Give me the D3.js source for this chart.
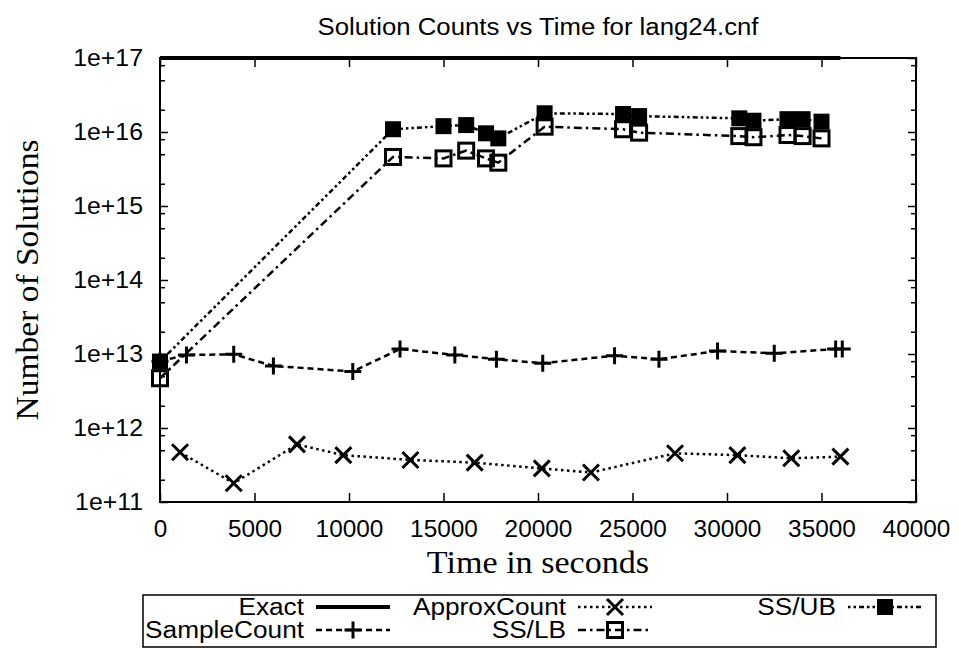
<!DOCTYPE html>
<html><head><meta charset="utf-8">
<script src="https://cdn.jsdelivr.net/npm/d3@7"></script>
<style>body{margin:0;background:#fff}svg{display:block}</style>
</head><body><svg id="c" width="959" height="648"></svg>
<script>
const title = "Solution Counts vs Time for lang24.cnf";
const xLabel = "Time in seconds";
const yLabel = "Number of Solutions";
const xTicks = [0,5000,10000,15000,20000,25000,30000,35000,40000];
const yTicks = [1e11,1e12,1e13,1e14,1e15,1e16,1e17];
const yTickLabels = ["1e+11","1e+12","1e+13","1e+14","1e+15","1e+16","1e+17"];

const exactTime = [0, 36000];
const exactVals = [1e17, 1e17];
const sampleTime = [0,1400,3900,6000,10200,12700,15600,17800,20250,24050,26400,29500,32500,35750,36100];
const sampleVals = [8e12,9.7e12,9.9e12,6.9e12,5.8e12,1.17e13,9.7e12,8.5e12,7.5e12,9.5e12,8.5e12,1.1e13,1.02e13,1.17e13,1.17e13];
const approxTime = [1060,3900,7250,9700,13250,16650,20200,22800,27250,30550,33400,36000];
const approxVals = [4.7e11,1.79e11,6.0e11,4.3e11,3.7e11,3.4e11,2.85e11,2.5e11,4.55e11,4.3e11,3.9e11,4.1e11];
const ssTime = [0,12330,15000,16200,17250,17900,20350,24500,25350,30650,31400,33200,34000,35000];
const ssUbVals = [7.9e12,1.09e16,1.2e16,1.24e16,9.6e15,8.2e15,1.79e16,1.75e16,1.64e16,1.53e16,1.42e16,1.49e16,1.49e16,1.38e16];
const ssLbVals = [4.7e12,4.6e15,4.4e15,5.6e15,4.4e15,3.85e15,1.18e16,1.09e16,9.8e15,8.8e15,8.5e15,9.1e15,8.8e15,8.2e15];

const svg = d3.select("#c");
const L=160,R=916,T=58,B=502;
const x = d3.scaleLinear().domain([0,40000]).range([L,R]);
const y = d3.scaleLog().domain([1e11,1e17]).range([B,T]);
const sans = "'Liberation Sans', Arial, sans-serif";
const serif = "'Liberation Serif', 'Times New Roman', serif";

function stretch(sel, f){
  sel.each(function(){
    const len = this.getComputedTextLength();
    d3.select(this).attr("textLength", len*f).attr("lengthAdjust","spacingAndGlyphs");
  });
}

const minor = [];
for (let e=11;e<17;e++) for (const m of [2,5,8]) minor.push(m*Math.pow(10,e));

const g = svg.append("g");
const tickStyle = a=>{a.select(".domain").remove();a.selectAll("line").attr("stroke","#000").attr("stroke-width",1.5);};
g.append("g").attr("transform",`translate(${L},0)`)
  .call(d3.axisLeft(y).tickValues(yTicks).tickSizeInner(-8).tickSizeOuter(0).tickFormat((d,i)=>yTickLabels[i]).tickPadding(17))
  .call(a=>{tickStyle(a);
    a.selectAll("text").attr("font-family",sans).attr("font-size",23).attr("fill","#000").call(stretch,1.08);});
g.append("g").attr("transform",`translate(${L},0)`)
  .call(d3.axisLeft(y).tickValues(minor).tickSizeInner(-5).tickSizeOuter(0).tickFormat("")).call(tickStyle);
g.append("g").attr("transform",`translate(${R},0)`)
  .call(d3.axisRight(y).tickValues(yTicks).tickSizeInner(-8).tickSizeOuter(0).tickFormat("")).call(tickStyle);
g.append("g").attr("transform",`translate(${R},0)`)
  .call(d3.axisRight(y).tickValues(minor).tickSizeInner(-5).tickSizeOuter(0).tickFormat("")).call(tickStyle);
g.append("g").attr("transform",`translate(0,${B})`)
  .call(d3.axisBottom(x).tickValues(xTicks).tickSizeInner(-9).tickSizeOuter(0).tickFormat(d3.format("d")).tickPadding(19))
  .call(a=>{tickStyle(a);
    a.selectAll("text").attr("font-family",sans).attr("font-size",23).attr("fill","#000").call(stretch,1.06);});
g.append("g").attr("transform",`translate(0,${T})`)
  .call(d3.axisTop(x).tickValues(xTicks).tickSizeInner(-9).tickSizeOuter(0).tickFormat("")).call(tickStyle);

svg.append("rect").attr("x",L).attr("y",T).attr("width",R-L).attr("height",B-T)
  .attr("fill","none").attr("stroke","#000").attr("stroke-width",2);

function marker(sel, type, cx, cy){
  if(type==="plus"){
    sel.append("path").attr("d",`M${cx-8.5},${cy}H${cx+8.5}M${cx},${cy-8.5}V${cy+8.5}`).attr("stroke","#000").attr("stroke-width",3).attr("fill","none");
  } else if(type==="cross"){
    sel.append("path").attr("d",`M${cx-8},${cy-8}L${cx+8},${cy+8}M${cx-8},${cy+8}L${cx+8},${cy-8}`).attr("stroke","#000").attr("stroke-width",3).attr("fill","none");
  } else if(type==="filled"){
    sel.append("rect").attr("x",cx-8).attr("y",cy-8).attr("width",16).attr("height",16).attr("fill","#000");
  } else if(type==="open"){
    sel.append("rect").attr("x",cx-7.5).attr("y",cy-7.5).attr("width",15).attr("height",15).attr("fill","none").attr("stroke","#000").attr("stroke-width",3);
  }
}

const series = [
  {name:"Exact", t:exactTime, v:exactVals, dash:null, w:4, m:null},
  {name:"SampleCount", t:sampleTime, v:sampleVals, dash:"6,4", w:2.5, m:"plus"},
  {name:"ApproxCount", t:approxTime, v:approxVals, dash:"2.5,3.5", w:2.5, m:"cross"},
  {name:"SS/LB", t:ssTime, v:ssLbVals, dash:"8,4,2.5,4", w:2.5, m:"open"},
  {name:"SS/UB", t:ssTime, v:ssUbVals, dash:"2.5,3,2.5,3,5,3", w:2.5, m:"filled"},
];
const line = d3.line().x(d=>x(d[0])).y(d=>y(d[1]));
for (const s of series){
  const pts = s.t.map((t,i)=>[t,s.v[i]]);
  const p = svg.append("path").attr("d",line(pts)).attr("fill","none").attr("stroke","#000").attr("stroke-width",s.w);
  if(s.dash) p.attr("stroke-dasharray",s.dash);
  if(s.m){ const mg = svg.append("g"); pts.forEach(d=>marker(mg,s.m,x(d[0]),y(d[1]))); }
}

svg.append("text").attr("x",(L+R)/2).attr("y",35).attr("text-anchor","middle")
  .attr("font-family",sans).attr("font-size",23).text(title).call(stretch,1.12);
svg.append("text").attr("x",(L+R)/2).attr("y",573).attr("text-anchor","middle")
  .attr("font-family",serif).attr("font-size",31).text(xLabel).call(stretch,1.1);
svg.append("text").attr("transform","translate(38,280) rotate(-90)").attr("text-anchor","middle")
  .attr("font-family",serif).attr("font-size",31).text(yLabel).call(stretch,1.08);

const lg = svg.append("g");
lg.append("rect").attr("x",143).attr("y",595).attr("width",793).attr("height",52).attr("fill","#fff").attr("stroke","#000").attr("stroke-width",1.5);
const legendItems = [
  {s:series[0], tx:304, cy:607},
  {s:series[1], tx:304, cy:630},
  {s:series[2], tx:566, cy:607},
  {s:series[3], tx:566, cy:630},
  {s:series[4], tx:836, cy:607},
];
for(const it of legendItems){
  lg.append("text").attr("x",it.tx).attr("y",it.cy+8).attr("text-anchor","end")
    .attr("font-family",sans).attr("font-size",23).text(it.s.name).call(stretch,1.14);
  const x0=it.tx+12, x1=it.tx+86;
  const p=lg.append("line").attr("x1",x0).attr("x2",x1).attr("y1",it.cy).attr("y2",it.cy).attr("stroke","#000").attr("stroke-width",it.s.w);
  if(it.s.dash) p.attr("stroke-dasharray",it.s.dash);
  if(it.s.m) marker(lg,it.s.m,(x0+x1)/2,it.cy);
}
</script></body></html>
